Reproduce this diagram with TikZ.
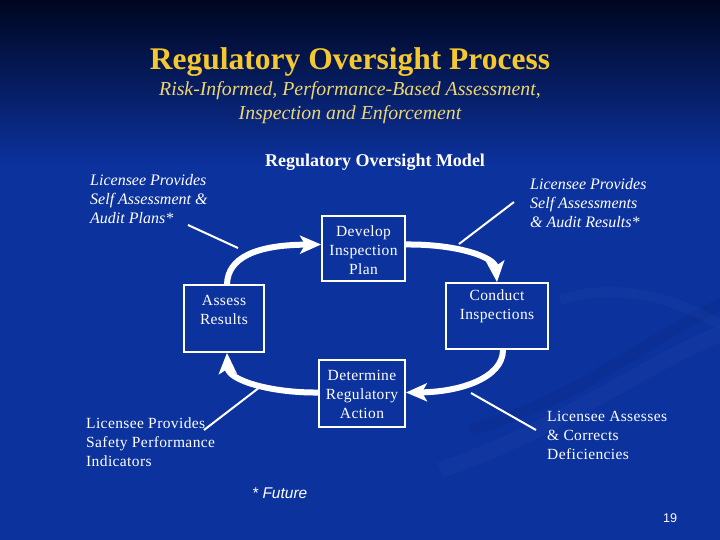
\documentclass[tikz,border=0pt]{standalone}
\usepackage{fontspec}
\setmainfont{Liberation Serif}
\newfontfamily\arialf{Liberation Sans}
\newfontfamily\spacedserif[LetterSpace=2.5]{Liberation Serif}
\usetikzlibrary{arrows.meta,calc}
\definecolor{bgblue}{RGB}{12,50,158}
\definecolor{bgmid}{RGB}{6,32,115}
\definecolor{bgdark}{RGB}{0,6,32}
\definecolor{ttlyellow}{RGB}{246,200,48}
\definecolor{subyellow}{RGB}{238,214,112}
\begin{document}
\begin{tikzpicture}[x=1pt,y=-1pt,
  box/.style={draw=white, line width=1.8pt, inner sep=0pt},
  boxtext/.style={text=white, font=\spacedserif\fontsize{15.5}{19}\selectfont, align=center, inner sep=0pt},
  lblit/.style={text=white, font=\fontsize{16}{19}\selectfont\itshape, align=left, anchor=west, inner sep=0pt},
  lblup/.style={text=white, font=\spacedserif\fontsize{15.5}{19}\selectfont, align=left, anchor=west, inner sep=0pt},
  flow/.style={draw=white, line width=6pt, -{Stealth[length=21pt,width=18pt,inset=5pt]}},
  pointer/.style={draw=white, line width=2pt}]
\useasboundingbox (0,0) rectangle (720,540);
% background
\shade[top color=bgdark, middle color=bgmid, bottom color=bgblue] (0,0) rectangle (720,165);
\fill[bgblue] (0,164) rectangle (720,540);
\draw[white, opacity=0.025, line width=16pt] (440,470) .. controls (560,430) and (650,360) .. (730,330);
\draw[black, opacity=0.05, line width=12pt] (470,430) .. controls (580,400) and (660,330) .. (730,300);
\draw[white, opacity=0.02, line width=10pt] (560,300) .. controls (620,280) and (680,300) .. (730,330);
% titles
\node[text=ttlyellow, font=\fontsize{31.5}{34}\selectfont\bfseries, inner sep=0pt] (title) at (350,62) {Regulatory Oversight Process};
\node[text=subyellow, font=\fontsize{19.8}{24}\selectfont\itshape, inner sep=0pt] (sub1) at (350,91) {Risk-Informed, Performance-Based Assessment,};
\node[text=subyellow, font=\fontsize{19.8}{24}\selectfont\itshape, inner sep=0pt] (sub2) at (350,115) {Inspection and Enforcement};
\node[text=white, font=\fontsize{18}{20}\selectfont\bfseries, inner sep=0pt] (model) at (375,162) {Regulatory Oversight Model};
% boxes
\node[box, minimum width=83pt, minimum height=65pt] (develop) at (363.5,248.5) {};
\node[box, minimum width=102pt, minimum height=66pt] (conduct) at (497,316) {};
\node[box, minimum width=80pt, minimum height=67pt] (assess) at (224,318.5) {};
\node[box, minimum width=86pt, minimum height=67pt] (determine) at (362,393.5) {};
\node[boxtext] (developT) at (363.5,250) {Develop\\Inspection\\Plan};
\node[boxtext] (conductT) at (497,306.5) {Conduct\\Inspections};
\node[boxtext] (assessT) at (224,309.5) {Assess\\Results};
\node[boxtext] (determineT) at (362,394) {Determine\\Regulatory\\Action};
% cycle arrows
\draw[flow] ($(assess.north)+(3,0)$) .. controls (228,258) and (255,245) .. ($(develop.west)+(0,-4)$);
\draw[flow] ($(develop.east)+(0,-4)$) .. controls (460,244) and (495,258) .. (conduct.north);
\draw[flow] ($(conduct.south)+(6,0)$) .. controls (503,378) and (460,392) .. ($(determine.east)+(0,-1)$);
\draw[flow] ($(determine.west)+(0,-1)$) .. controls (270,393) and (228,380) .. ($(assess.south)+(3,0)$);
% labels
\node[lblit] (lTL) at (90,199) {Licensee Provides\\Self Assessment \&\\Audit Plans*};
\node[lblit] (lTR) at (530,203) {Licensee Provides\\Self Assessments\\\& Audit Results*};
\node[lblup] (lBL) at (86,442) {Licensee Provides\\Safety Performance\\Indicators};
\node[lblup] (lBR) at (547,435) {Licensee Assesses\\\& Corrects\\Deficiencies};
% pointers
\coordinate (p1a) at (188,225); \coordinate (p1b) at (238,248);
\coordinate (p2a) at (459,244); \coordinate (p2b) at (514,202);
\coordinate (p3a) at (204,430); \coordinate (p3b) at (260,387);
\coordinate (p4a) at (471,393); \coordinate (p4b) at (536,430);
\draw[pointer] (p1a) -- (p1b);
\draw[pointer] (p2a) -- (p2b);
\draw[pointer] (p3a) -- (p3b);
\draw[pointer] (p4a) -- (p4b);
% footer
\node[text=white, font=\arialf\itshape\fontsize{15.5}{18}\selectfont, anchor=west, inner sep=0pt] (future) at (252,493) {* Future};
\node[text=white, font=\arialf\fontsize{12.6}{15}\selectfont, inner sep=0pt] (pagenum) at (670,518) {19};
\end{tikzpicture}
\end{document}
